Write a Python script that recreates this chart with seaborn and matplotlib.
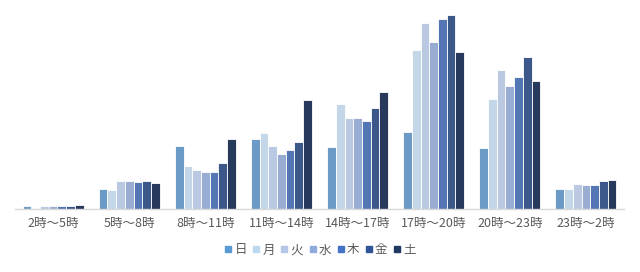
import matplotlib
matplotlib.use("Agg")
import matplotlib.pyplot as plt
from matplotlib.lines import Line2D
import seaborn as sns
import pandas as pd

categories = ["2時～5時", "5時～8時", "8時～11時", "11時～14時",
              "14時～17時", "17時～20時", "20時～23時", "23時～2時"]
days = ["日", "月", "火", "水", "木", "金", "土"]
values = {
    "日": [3.0, 20.5, 63.0, 70.5, 61.7, 77.3, 61.0, 19.7],
    "月": [1.5, 19.5, 43.0, 76.0, 105.3, 159.3, 110.0, 19.7],
    "火": [3.0, 28.5, 39.0, 63.0, 91.3, 186.3, 138.7, 25.0],
    "水": [3.0, 28.0, 37.5, 55.0, 91.3, 166.7, 123.3, 23.7],
    "木": [3.0, 27.0, 37.5, 59.0, 88.3, 189.7, 131.7, 24.3],
    "金": [3.0, 28.0, 46.0, 67.0, 100.7, 193.7, 152.3, 28.0],
    "土": [4.0, 26.5, 70.5, 109.5, 117.3, 156.7, 127.7, 28.7],
}
colors = ["#5B9BD5", "#BDD7EE", "#B4C7E7", "#8FAADC", "#4472C4", "#2F5597", "#1F3864"]

rows = []
for d in days:
    for c, v in zip(categories, values[d]):
        rows.append({"time": c, "day": d, "value": v})
df = pd.DataFrame(rows)

sns.set_style("white")
plt.rcParams["font.family"] = ["Noto Sans CJK JP", "DejaVu Sans"]

fig = plt.figure(figsize=(6.4, 2.72), dpi=100)
ax = fig.add_axes([15/640, 1 - 209/272, 609/640, 199/272])
sns.barplot(data=df, x="time", y="value", hue="day", order=categories,
            hue_order=days, palette=colors, width=0.8, ax=ax,
            edgecolor="white", linewidth=0.6, legend=False, errorbar=None)
ax.set_ylim(0, 199)
ax.set_xlim(-0.5, len(categories) - 0.5)
ax.set_xlabel("")
ax.set_ylabel("")
ax.set_yticks([])
for s in ["top", "right", "left"]:
    ax.spines[s].set_visible(False)
ax.spines["bottom"].set_color("#D9D9D9")
ax.spines["bottom"].set_linewidth(1)
ax.tick_params(axis="x", length=0, pad=6, labelsize=9, labelcolor="#595959")

handles = [Line2D([0], [0], marker="s", linestyle="", markersize=5,
                  markerfacecolor=c, markeredgecolor=c) for c in colors]
fig.legend(handles, days, loc="center", bbox_to_anchor=(0.5, 1 - 250/272),
           ncol=7, frameon=False, fontsize=9, handlelength=0.6,
           handletextpad=0.2, columnspacing=0.45, labelcolor="#595959")

fig.savefig("out.png", dpi=100)
